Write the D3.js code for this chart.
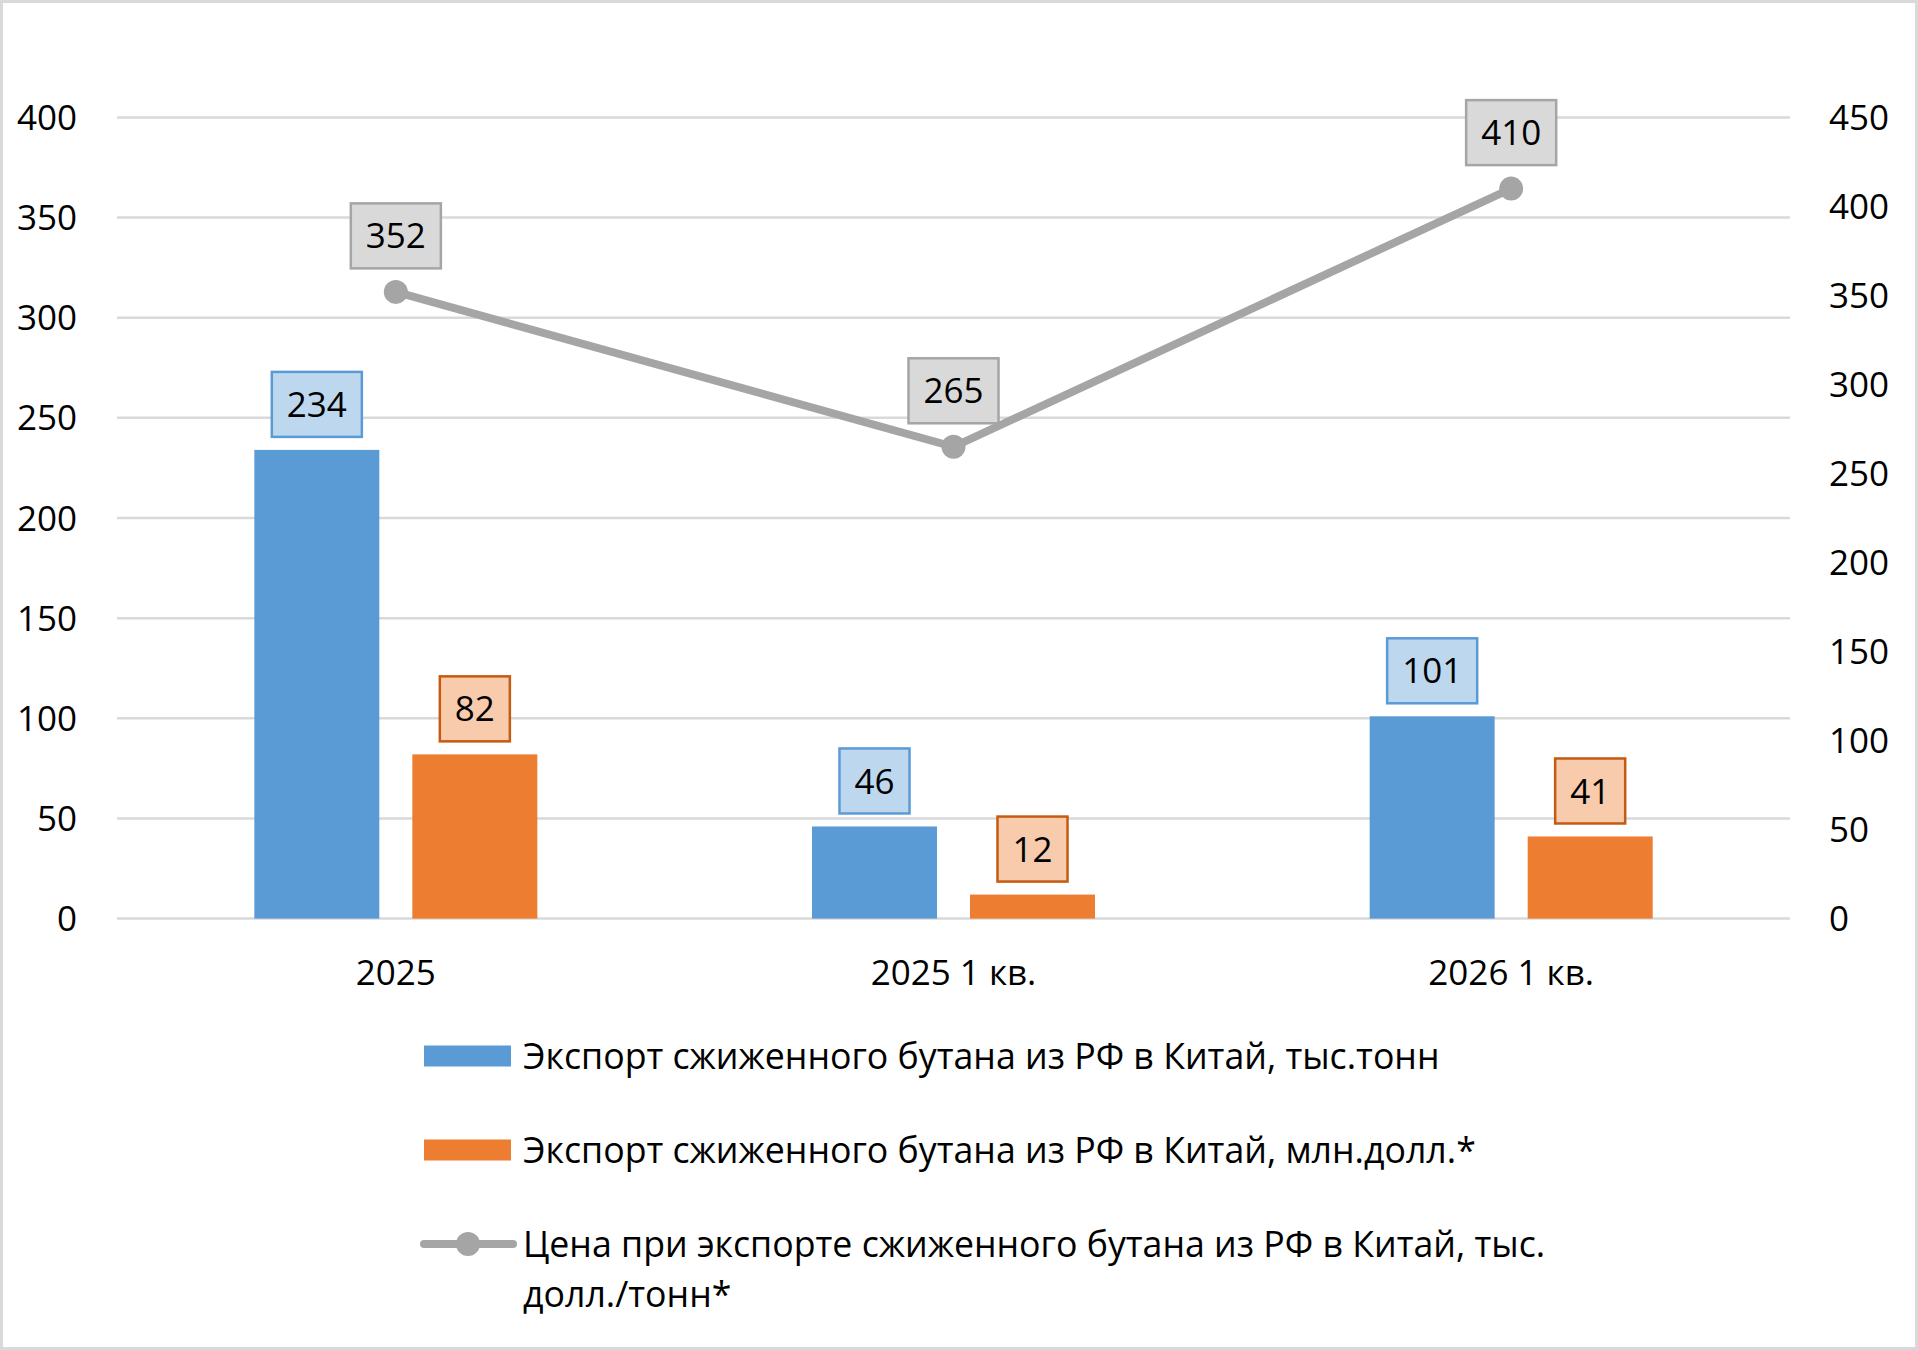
<!DOCTYPE html>
<html>
<head>
<meta charset="utf-8">
<script src="https://cdn.jsdelivr.net/npm/d3@7"></script>
<style>
  body { margin: 0; background: #fff; }
  text { font-family: "Open Sans", "Noto Sans", sans-serif; fill: #000; }
</style>
</head>
<body>
<script>
  // chart data
  const categories = ["2025", "2025 1 кв.", "2026 1 кв."];
  const volume = [234, 46, 101];      // тыс.тонн, left axis
  const valueUsd = [82, 12, 41];      // млн.долл., left axis
  const price = [352, 265, 410];      // тыс.долл./тонн, right axis
  const leftTicks = [0, 50, 100, 150, 200, 250, 300, 350, 400];
  const rightTicks = [0, 50, 100, 150, 200, 250, 300, 350, 400, 450];
  const legendLabels = [
    ["Экспорт сжиженного бутана из РФ в Китай, тыс.тонн"],
    ["Экспорт сжиженного бутана из РФ в Китай, млн.долл.*"],
    ["Цена при экспорте сжиженного бутана из РФ в Китай, тыс.", "долл./тонн*"]
  ];

  const width = 1918, height = 1350;
  const fontSize = 35;
  const legendFontSize = 35.7;

  const svg = d3.select("body").append("svg")
    .attr("width", width)
    .attr("height", height);

  // outer frame
  svg.append("rect")
    .attr("x", 1.5).attr("y", 1.5)
    .attr("width", width - 3).attr("height", height - 3)
    .attr("fill", "#fff").attr("stroke", "#d9d9d9").attr("stroke-width", 3);

  const plotLeft = 117, plotRight = 1790;
  const plotTop = 117.4, plotBottom = 918.6;

  const x = d3.scaleBand().domain(categories).range([plotLeft, plotRight]);
  const xSeries = d3.scaleBand().domain([0, 1]).range([-141.5, 141.5]).paddingInner(0.209);
  const yLeft = d3.scaleLinear().domain([0, 400]).range([plotBottom, plotTop]);
  const yRight = d3.scaleLinear().domain([0, 450]).range([plotBottom, plotTop]);

  // gridlines
  svg.append("g").selectAll("line")
    .data(leftTicks)
    .join("line")
    .attr("x1", plotLeft).attr("x2", plotRight)
    .attr("y1", d => yLeft(d)).attr("y2", d => yLeft(d))
    .attr("stroke", "#d9d9d9").attr("stroke-width", 2.5);

  // left axis labels
  svg.append("g").selectAll("text")
    .data(leftTicks)
    .join("text")
    .attr("x", 77).attr("y", d => yLeft(d))
    .attr("dy", "0.36em")
    .attr("text-anchor", "end")
    .attr("font-size", fontSize)
    .text(d => d);

  // right axis labels
  svg.append("g").selectAll("text")
    .data(rightTicks)
    .join("text")
    .attr("x", 1829).attr("y", d => yRight(d))
    .attr("dy", "0.36em")
    .attr("text-anchor", "start")
    .attr("font-size", fontSize)
    .text(d => d);

  // category labels
  svg.append("g").selectAll("text")
    .data(categories)
    .join("text")
    .attr("x", d => x(d) + x.bandwidth() / 2)
    .attr("y", 972)
    .attr("dy", "0.36em")
    .attr("text-anchor", "middle")
    .attr("font-size", fontSize)
    .text(d => d);

  const barSeries = [
    { values: volume, fill: "#5b9bd5", boxFill: "#bdd7ee", boxStroke: "#5b9bd5" },
    { values: valueUsd, fill: "#ed7d31", boxFill: "#f8cbad", boxStroke: "#c55a11" }
  ];

  // bars
  barSeries.forEach((s, si) => {
    svg.append("g").selectAll("rect")
      .data(s.values)
      .join("rect")
      .attr("x", (d, i) => x(categories[i]) + x.bandwidth() / 2 + xSeries(si))
      .attr("y", d => yLeft(d))
      .attr("width", xSeries.bandwidth())
      .attr("height", d => yLeft(0) - yLeft(d))
      .attr("fill", s.fill);
  });

  // price line
  const linePts = price.map((d, i) => [x(categories[i]) + x.bandwidth() / 2, yRight(d)]);
  svg.append("path")
    .attr("d", d3.line()(linePts))
    .attr("fill", "none")
    .attr("stroke", "#a5a5a5")
    .attr("stroke-width", 8)
    .attr("stroke-linecap", "round");
  svg.append("g").selectAll("circle")
    .data(linePts)
    .join("circle")
    .attr("cx", d => d[0]).attr("cy", d => d[1])
    .attr("r", 12)
    .attr("fill", "#a5a5a5");

  // data label box helper
  function labelBox(cx, bottom, txt, fill, stroke) {
    const g = svg.append("g");
    const t = g.append("text")
      .attr("x", cx)
      .attr("y", bottom - 32.5)
      .attr("dy", "0.36em")
      .attr("text-anchor", "middle")
      .attr("font-size", fontSize)
      .text(txt);
    const w = t.node().getComputedTextLength() + 30;
    g.insert("rect", "text")
      .attr("x", cx - w / 2).attr("y", bottom - 65)
      .attr("width", w).attr("height", 65)
      .attr("fill", fill).attr("stroke", stroke).attr("stroke-width", 2.5);
  }

  barSeries.forEach((s, si) => {
    s.values.forEach((d, i) => {
      const cx = x(categories[i]) + x.bandwidth() / 2 + xSeries(si) + xSeries.bandwidth() / 2;
      labelBox(cx, yLeft(d) - 13, d, s.boxFill, s.boxStroke);
    });
  });
  price.forEach((d, i) => {
    labelBox(linePts[i][0], yRight(d) - 23.5, d, "#d9d9d9", "#a5a5a5");
  });

  // legend
  const legendY = [1056, 1150, 1244];
  const legend = svg.append("g");
  legend.append("rect").attr("x", 424).attr("y", legendY[0] - 10.5)
    .attr("width", 87).attr("height", 21).attr("fill", "#5b9bd5");
  legend.append("rect").attr("x", 424).attr("y", legendY[1] - 10.5)
    .attr("width", 87).attr("height", 21).attr("fill", "#ed7d31");
  legend.append("line").attr("x1", 424).attr("x2", 513)
    .attr("y1", legendY[2]).attr("y2", legendY[2])
    .attr("stroke", "#a5a5a5").attr("stroke-width", 8).attr("stroke-linecap", "round");
  legend.append("circle").attr("cx", 468).attr("cy", legendY[2]).attr("r", 12).attr("fill", "#a5a5a5");

  legendLabels.forEach((lines, k) => {
    const t = legend.append("text")
      .attr("x", 523).attr("y", legendY[k])
      .attr("font-size", legendFontSize);
    lines.forEach((ln, j) => {
      t.append("tspan")
        .attr("x", 523)
        .attr("y", legendY[k] + j * 50)
        .attr("dy", "0.36em")
        .text(ln);
    });
  });
</script>
</body>
</html>
